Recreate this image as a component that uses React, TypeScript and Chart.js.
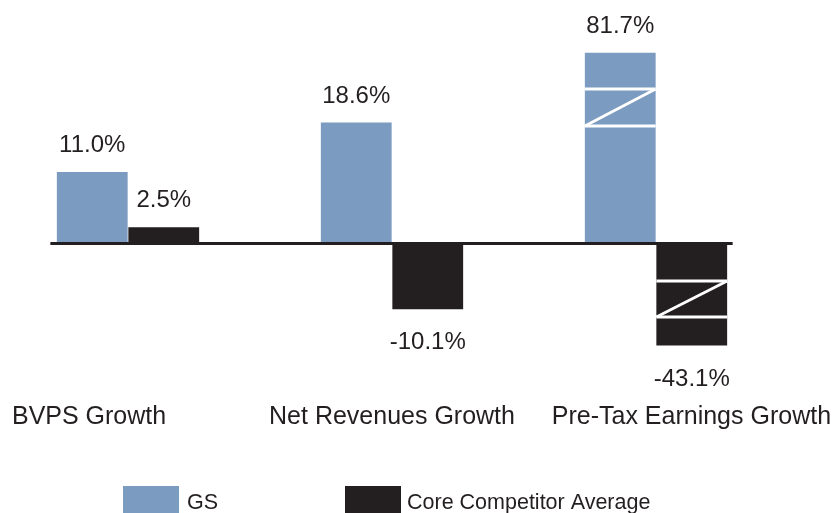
import React, { useEffect, useRef } from "react";
import { Chart, registerables } from "chart.js";

Chart.register(...registerables);

// ---- data ----
const CATEGORIES = ["BVPS Growth", "Net Revenues Growth", "Pre-Tax Earnings Growth"];
const SERIES_NAMES = ["GS", "Core Competitor Average"];
const GS_VALUES = [11.0, 18.6, 81.7];
const COMPETITOR_VALUES = [2.5, -10.1, -43.1];

// ---- broken axis (values outside the caps are drawn truncated with a Z break) ----
const AXIS_MIN = -17;
const AXIS_MAX = 30;
const BREAK_CAP_HIGH = 29.35;
const BREAK_CAP_LOW = -15.7;
const GS_BREAK = [18.08, 23.77];
const COMPETITOR_BREAK = [-11.31, -5.77];

// ---- style ----
const FONT = '"Liberation Sans", Arial, Helvetica, sans-serif';
const TEXT_COLOR = "#231f20";
const BLUE = "#7b9bc0";
const DARK = "#231f20";
const LABEL_SHIFT = [-1.1, 0, 1];

const capValue = (v: number) => Math.min(Math.max(v, BREAK_CAP_LOW), BREAK_CAP_HIGH);

const annotatePlugin = {
  id: "annotate",
  afterDatasetsDraw(chart: any) {
    const ctx: CanvasRenderingContext2D = chart.ctx;
    const yScale = chart.scales.y;
    const xScale = chart.scales.x;
    const raws = [GS_VALUES, COMPETITOR_VALUES];
    const breaks = [GS_BREAK, COMPETITOR_BREAK];
    ctx.save();

    let minLeft = Infinity;
    let maxRight = -Infinity;
    let barWidth = 0;

    chart.data.datasets.forEach((_ds: any, di: number) => {
      const meta = chart.getDatasetMeta(di);
      meta.data.forEach((bar: any, i: number) => {
        const p = bar.getProps(["x", "y", "width", "base"], true);
        const l = p.x - p.width / 2;
        const r = p.x + p.width / 2;
        barWidth = p.width;
        minLeft = Math.min(minLeft, l);
        maxRight = Math.max(maxRight, r);
        const v = raws[di][i];
        if (v > BREAK_CAP_HIGH || v < BREAK_CAP_LOW) {
          const [a, b] = breaks[di];
          const yLow = yScale.getPixelForValue(a);
          const yHigh = yScale.getPixelForValue(b);
          ctx.strokeStyle = "#ffffff";
          ctx.lineWidth = 2.8;
          ctx.lineCap = "butt";
          const seg = (x1: number, y1: number, x2: number, y2: number) => {
            ctx.beginPath();
            ctx.moveTo(x1, y1);
            ctx.lineTo(x2, y2);
            ctx.stroke();
          };
          seg(l, yHigh, r, yHigh);
          seg(r, yHigh, l, yLow);
          seg(l, yLow, r, yLow);
        }
        // value label
        ctx.fillStyle = TEXT_COLOR;
        ctx.font = `24px ${FONT}`;
        ctx.textAlign = "center";
        ctx.textBaseline = "alphabetic";
        const txt = v.toFixed(1) + "%";
        if (v >= 0) ctx.fillText(txt, p.x, p.y - 20);
        else ctx.fillText(txt, p.x, p.y + 40);
      });
    });

    // zero line
    const y0 = yScale.getPixelForValue(0);
    ctx.strokeStyle = DARK;
    ctx.lineWidth = 3;
    ctx.beginPath();
    ctx.moveTo(minLeft - 6.5, y0);
    ctx.lineTo(maxRight + 5.5, y0);
    ctx.stroke();

    // category labels
    ctx.fillStyle = TEXT_COLOR;
    ctx.font = `25px ${FONT}`;
    ctx.textAlign = "center";
    ctx.textBaseline = "alphabetic";
    CATEGORIES.forEach((c, i) => {
      const cx = xScale.getPixelForValue(i) + LABEL_SHIFT[i] * (barWidth / 2);
      ctx.fillText(c, cx, 424);
    });

    // legend
    const legendItems = [
      { box: 127, text: 191 },
      { box: 349, text: 411 },
    ];
    ctx.font = `21.5px ${FONT}`;
    ctx.textAlign = "left";
    chart.data.datasets.forEach((ds: any, di: number) => {
      const it = legendItems[di];
      ctx.fillStyle = ds.backgroundColor;
      ctx.fillRect(it.box, 486, 56, 27);
      ctx.fillStyle = TEXT_COLOR;
      ctx.fillText(ds.label, it.text, 509);
    });

    ctx.restore();
  },
};

export default function App() {
  const canvasRef = useRef<HTMLCanvasElement | null>(null);

  useEffect(() => {
    if (!canvasRef.current) return;
    const chart = new Chart(canvasRef.current, {
      type: "bar",
      data: {
        labels: CATEGORIES,
        datasets: [
          {
            label: SERIES_NAMES[0],
            data: GS_VALUES.map(capValue),
            backgroundColor: BLUE,
            borderWidth: 0,
          },
          {
            label: SERIES_NAMES[1],
            data: COMPETITOR_VALUES.map(capValue),
            backgroundColor: DARK,
            borderWidth: 0,
          },
        ],
      },
      options: {
        responsive: false,
        animation: false,
        events: [],
        layout: { padding: { left: 0, right: 48, top: 48.5, bottom: 159 } },
        datasets: {
          bar: { categoryPercentage: 0.5417, barPercentage: 0.99 },
        },
        plugins: {
          legend: { display: false },
          tooltip: { enabled: false },
        },
        scales: {
          x: { display: false },
          y: { display: false, min: AXIS_MIN, max: AXIS_MAX },
        },
      },
      plugins: [annotatePlugin],
    });
    return () => chart.destroy();
  }, []);

  return (
    <div style={{ position: "absolute", left: -4, top: 0, width: 840, height: 513, background: "#ffffff" }}>
      <canvas ref={canvasRef} width={840} height={513} style={{ display: "block" }} />
    </div>
  );
}
